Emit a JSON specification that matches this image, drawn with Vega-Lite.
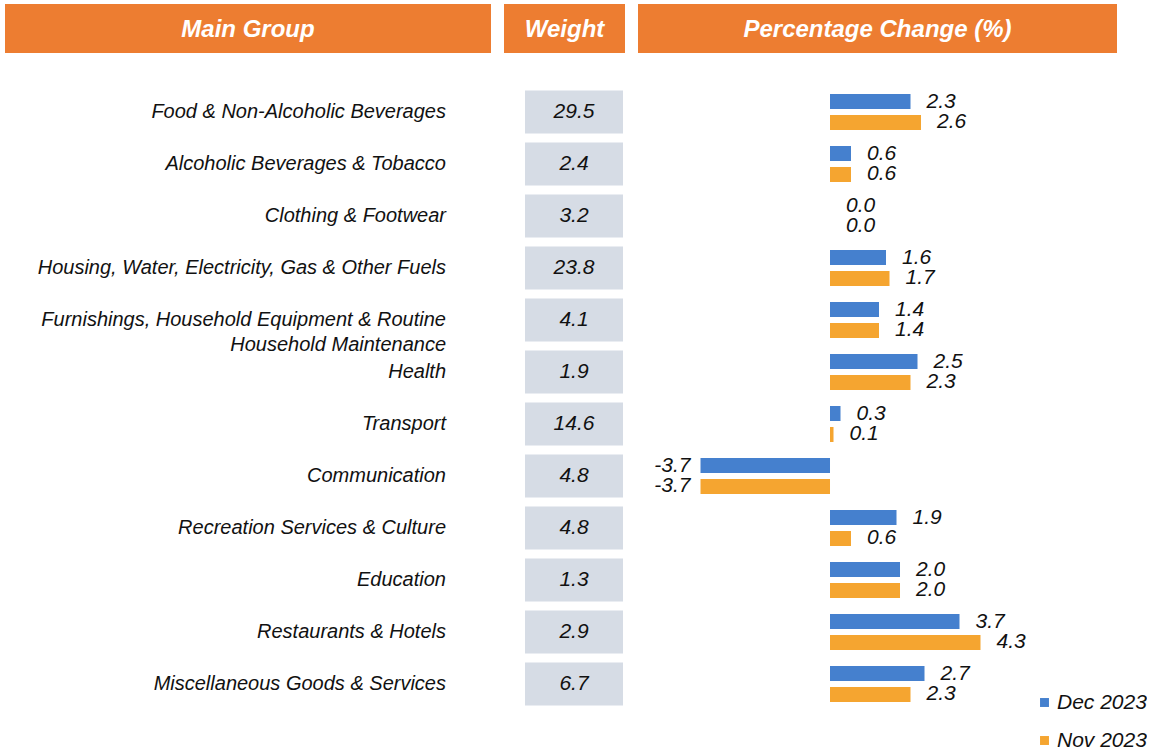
{
  "$schema": "https://vega.github.io/schema/vega-lite/v6.json",
  "padding": {"left": 5, "top": 4, "right": 0, "bottom": 0},
  "background": "white",
  "config": {
    "view": {"stroke": null},
    "font": "Liberation Sans",
    "text": {"font": "Liberation Sans", "fontStyle": "italic", "color": "#111111"}
  },
  "datasets": {
    "groups": [
      {"group": "Food & Non-Alcoholic Beverages", "weight": 29.5},
      {"group": "Alcoholic Beverages & Tobacco", "weight": 2.4},
      {"group": "Clothing & Footwear", "weight": 3.2},
      {"group": "Housing, Water, Electricity, Gas & Other Fuels", "weight": 23.8},
      {"group": "Furnishings, Household Equipment & Routine|Household Maintenance", "weight": 4.1},
      {"group": "Health", "weight": 1.9},
      {"group": "Transport", "weight": 14.6},
      {"group": "Communication", "weight": 4.8},
      {"group": "Recreation Services & Culture", "weight": 4.8},
      {"group": "Education", "weight": 1.3},
      {"group": "Restaurants & Hotels", "weight": 2.9},
      {"group": "Miscellaneous Goods & Services", "weight": 6.7}
    ],
    "changes": [
      {"group": "Food & Non-Alcoholic Beverages", "series": "Dec 2023", "value": 2.3},
      {"group": "Food & Non-Alcoholic Beverages", "series": "Nov 2023", "value": 2.6},
      {"group": "Alcoholic Beverages & Tobacco", "series": "Dec 2023", "value": 0.6},
      {"group": "Alcoholic Beverages & Tobacco", "series": "Nov 2023", "value": 0.6},
      {"group": "Clothing & Footwear", "series": "Dec 2023", "value": 0.0},
      {"group": "Clothing & Footwear", "series": "Nov 2023", "value": 0.0},
      {"group": "Housing, Water, Electricity, Gas & Other Fuels", "series": "Dec 2023", "value": 1.6},
      {"group": "Housing, Water, Electricity, Gas & Other Fuels", "series": "Nov 2023", "value": 1.7},
      {"group": "Furnishings, Household Equipment & Routine|Household Maintenance", "series": "Dec 2023", "value": 1.4},
      {"group": "Furnishings, Household Equipment & Routine|Household Maintenance", "series": "Nov 2023", "value": 1.4},
      {"group": "Health", "series": "Dec 2023", "value": 2.5},
      {"group": "Health", "series": "Nov 2023", "value": 2.3},
      {"group": "Transport", "series": "Dec 2023", "value": 0.3},
      {"group": "Transport", "series": "Nov 2023", "value": 0.1},
      {"group": "Communication", "series": "Dec 2023", "value": -3.7},
      {"group": "Communication", "series": "Nov 2023", "value": -3.7},
      {"group": "Recreation Services & Culture", "series": "Dec 2023", "value": 1.9},
      {"group": "Recreation Services & Culture", "series": "Nov 2023", "value": 0.6},
      {"group": "Education", "series": "Dec 2023", "value": 2.0},
      {"group": "Education", "series": "Nov 2023", "value": 2.0},
      {"group": "Restaurants & Hotels", "series": "Dec 2023", "value": 3.7},
      {"group": "Restaurants & Hotels", "series": "Nov 2023", "value": 4.3},
      {"group": "Miscellaneous Goods & Services", "series": "Dec 2023", "value": 2.7},
      {"group": "Miscellaneous Goods & Services", "series": "Nov 2023", "value": 2.3}
    ]
  },
  "vconcat": [
    {
      "hconcat": [
        {
          "width": 486, "height": 49,
          "view": {"fill": "#ED7D31", "stroke": null},
          "data": {"values": [{"h": "Main Group"}]},
          "mark": {"type": "text", "fontSize": 24, "fontWeight": "bold", "fontStyle": "italic", "color": "white", "baseline": "middle", "dy": 1},
          "encoding": {"text": {"field": "h"}}
        },
        {
          "width": 121, "height": 49,
          "view": {"fill": "#ED7D31", "stroke": null},
          "data": {"values": [{"h": "Weight"}]},
          "mark": {"type": "text", "fontSize": 24, "fontWeight": "bold", "fontStyle": "italic", "color": "white", "baseline": "middle", "dy": 1},
          "encoding": {"text": {"field": "h"}}
        },
        {
          "width": 479, "height": 49,
          "view": {"fill": "#ED7D31", "stroke": null},
          "data": {"values": [{"h": "Percentage Change (%)"}]},
          "mark": {"type": "text", "fontSize": 24, "fontWeight": "bold", "fontStyle": "italic", "color": "white", "baseline": "middle", "dy": 1},
          "encoding": {"text": {"field": "h"}}
        }
      ],
      "spacing": 13
    },
    {
      "hconcat": [
        {
          "hconcat": [
            {
              "width": 441, "height": 624,
              "data": {"name": "groups"},
              "mark": {"type": "text", "align": "right", "baseline": "middle", "fontSize": 20, "lineBreak": "|", "lineHeight": 25},
              "encoding": {
                "x": {"value": "width"},
                "y": {"field": "group", "type": "nominal", "sort": null, "axis": null,
                      "scale": {"paddingInner": 0.173, "paddingOuter": 0.0865}},
                "text": {"field": "group"}
              }
            },
            {
              "width": 98, "height": 624,
              "data": {"name": "groups"},
              "layer": [
                {
                  "mark": {"type": "rect", "color": "#D6DCE5"},
                  "encoding": {
                    "y": {"field": "group", "type": "nominal", "sort": null, "axis": null,
                          "scale": {"paddingInner": 0.173, "paddingOuter": 0.0865}}
                  }
                },
                {
                  "mark": {"type": "text", "baseline": "middle", "fontSize": 21},
                  "encoding": {
                    "y": {"field": "group", "type": "nominal", "sort": null, "axis": null},
                    "text": {"field": "weight", "type": "quantitative", "format": ".1f"}
                  }
                }
              ]
            }
          ],
          "spacing": 79
        },
        {
          "width": 479, "height": 624,
          "data": {"name": "changes"},
          "transform": [
            {"calculate": "replace(format(datum.value, '.1f'), '\u2212', '-')", "as": "label"}
          ],
          "encoding": {
            "y": {"field": "group", "type": "nominal", "sort": null, "axis": null,
                  "scale": {"paddingInner": 0.173, "paddingOuter": 0.0865}},
            "yOffset": {"field": "series", "type": "nominal", "sort": ["Dec 2023", "Nov 2023"],
                        "scale": {"paddingInner": 0.286, "paddingOuter": 0.167}},
            "x": {"field": "value", "type": "quantitative", "axis": null,
                  "scale": {"domain": [-5.486, 8.2], "nice": false, "zero": false}}
          },
          "layer": [
            {
              "mark": {"type": "bar"},
              "encoding": {
                "color": {"field": "series", "type": "nominal",
                          "scale": {"domain": ["Dec 2023", "Nov 2023"], "range": ["#4580CE", "#F5A530"]},
                          "legend": {"title": null, "orient": "none", "legendX": 1029, "legendY": 688,
                                     "symbolType": "square", "symbolSize": 80, "symbolStrokeWidth": 0,
                                     "labelFontSize": 21, "labelFontStyle": "italic", "labelFont": "Liberation Sans",
                                     "labelColor": "#111111", "rowPadding": 16, "labelOffset": 2}}
              }
            },
            {
              "transform": [{"filter": "datum.value >= 0"}],
              "mark": {"type": "text", "align": "left", "baseline": "middle", "dx": 16, "fontSize": 21},
              "encoding": {"text": {"field": "label"}}
            },
            {
              "transform": [{"filter": "datum.value < 0"}],
              "mark": {"type": "text", "align": "right", "baseline": "middle", "dx": -10, "fontSize": 21},
              "encoding": {"text": {"field": "label"}}
            }
          ]
        }
      ],
      "spacing": 15
    }
  ],
  "spacing": 33
}
